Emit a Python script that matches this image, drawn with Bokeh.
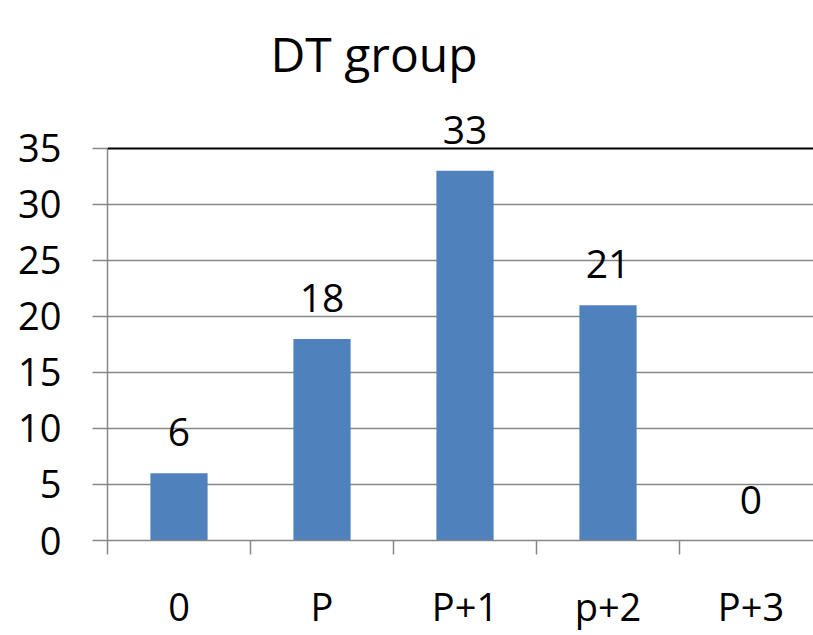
from bokeh.plotting import figure
from bokeh.models import (Range1d, FixedTicker, ColumnDataSource, LabelSet, Label, Span)
from bokeh.core.properties import value
from bokeh.embed import file_html
from bokeh.resources import INLINE

# ---- data ----
categories = ["0", "P", "P+1", "p+2", "P+3"]
values = [6, 18, 33, 21, 0]
y_ticks = [0, 5, 10, 15, 20, 25, 30, 35]
title_text = "DT group"

FONT = "Open Sans"
BLUE = "#4F81BD"
GRID = "#878787"

n = len(categories)
centers = [i + 0.5 for i in range(n)]
boundaries = list(range(n + 1))
y_max = y_ticks[-1]

src = ColumnDataSource(dict(x=centers, top=values, lab=[str(v) for v in values]))

p = figure(width=813, height=635, output_backend="svg", toolbar_location=None,
           x_range=Range1d(0, 4.937), y_range=Range1d(0, 48.21),
           min_border_left=107, min_border_right=0, min_border_top=0,
           min_border_bottom=95)
p.outline_line_color = None
p.background_fill_color = "white"
p.border_fill_color = "white"

p.vbar(x="x", top="top", width=0.4, source=src, fill_color=BLUE, line_color=None)

# y axis
p.yaxis.ticker = FixedTicker(ticks=y_ticks)
p.yaxis.bounds = (0, y_max)
p.yaxis.axis_line_color = GRID
p.yaxis.axis_line_width = 1.5
p.yaxis.major_tick_line_color = GRID
p.yaxis.major_tick_line_width = 1.5
p.yaxis.major_tick_in = 0
p.yaxis.major_tick_out = 15
p.yaxis.minor_tick_line_color = None
p.yaxis.major_label_text_font = FONT
p.yaxis.major_label_text_font_size = "38px"
p.yaxis.major_label_text_color = "black"
p.yaxis.major_label_standoff = 31

# x axis
p.xaxis.ticker = FixedTicker(ticks=centers, minor_ticks=boundaries)
p.xaxis.major_label_overrides = {c: lab for c, lab in zip(centers, categories)}
p.xaxis.axis_line_color = GRID
p.xaxis.axis_line_width = 1.5
p.xaxis.major_tick_line_color = None
p.xaxis.major_tick_in = 0
p.xaxis.major_tick_out = 0
p.xaxis.minor_tick_line_color = GRID
p.xaxis.minor_tick_line_width = 1.5
p.xaxis.minor_tick_in = 0
p.xaxis.minor_tick_out = 14
p.xaxis.major_label_text_font = FONT
p.xaxis.major_label_text_font_size = "38px"
p.xaxis.major_label_text_color = "black"
p.xaxis.major_label_standoff = 25

# grid
p.xgrid.grid_line_color = None
p.ygrid.ticker = FixedTicker(ticks=y_ticks[1:-1])
p.ygrid.grid_line_color = GRID
p.ygrid.grid_line_width = 1.5

# top border line (black)
p.add_layout(Span(location=y_max, dimension="width", line_color="black", line_width=2))

# value labels
labels = LabelSet(x="x", y="top", text="lab", source=src, text_align="center",
                  text_baseline="alphabetic", y_offset=27,
                  text_font=value(FONT), text_font_size=value("39px"),
                  text_color="black")
p.add_layout(labels)

# title
p.add_layout(Label(x=1.14, y=43.5, text=title_text, text_font=FONT,
                   text_font_size="48px", text_baseline="alphabetic",
                   text_align="left", text_color="black"))

open("out.html", "w").write(file_html(p, INLINE))
